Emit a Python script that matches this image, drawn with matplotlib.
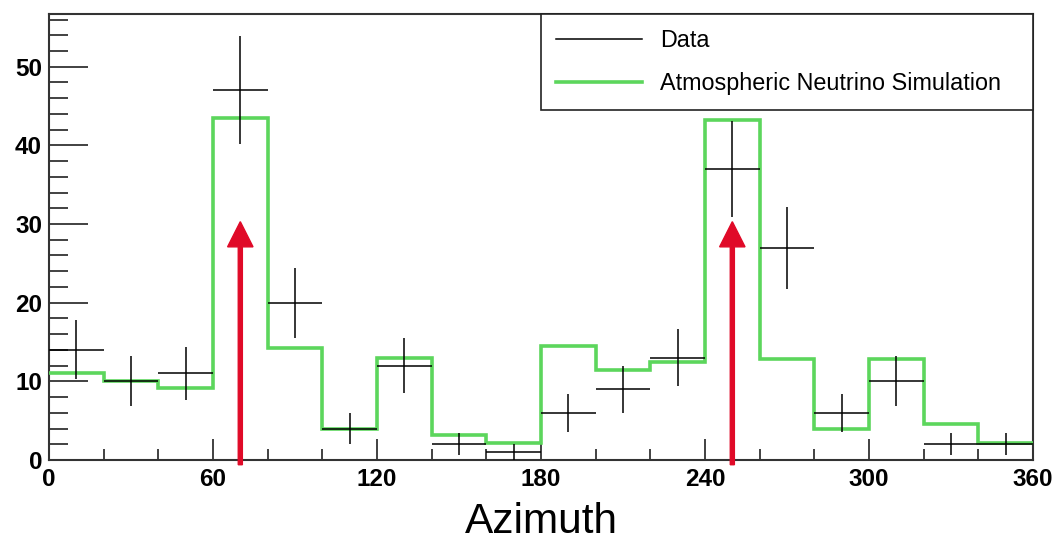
import numpy as np
import matplotlib
matplotlib.use("Agg")
import matplotlib.pyplot as plt
from matplotlib.lines import Line2D
from matplotlib.ticker import MultipleLocator

# azimuth bins (degrees), 20 deg wide
bin_edges = [0, 20, 40, 60, 80, 100, 120, 140, 160, 180,
             200, 220, 240, 260, 280, 300, 320, 340, 360]
data_counts = [14, 10, 11, 47, 20, 4, 12, 2, 1,
               6, 9, 13, 37, 27, 6, 10, 2, 2]
sim_counts = [11.1, 10.1, 9.2, 43.5, 14.3, 3.9, 13.0, 3.2, 2.1,
              14.5, 11.4, 12.5, 43.2, 12.9, 3.9, 12.9, 4.6, 2.1]
arrow_x = [70, 250]
arrow_top = 30.3

green = "#5cd65c"
plt.rcParams["font.family"] = ["Liberation Sans", "DejaVu Sans"]

fig = plt.figure(figsize=(10.53, 5.41), dpi=100)
ax = fig.add_axes([0.0465, 0.1497, 0.9345, 0.8244])

edges = np.array(bin_edges, dtype=float)
centers = 0.5 * (edges[:-1] + edges[1:])
half = 0.5 * np.diff(edges)
data = np.array(data_counts, dtype=float)
err = np.sqrt(data)

# simulation histogram (no drop to zero at the outer edges)
ax.stairs(sim_counts, edges, baseline=None, color=green, lw=2.6, zorder=3)

# data points with poisson errors
ax.errorbar(centers, data, xerr=half, yerr=err, fmt="none",
            ecolor="black", elinewidth=1.1, capsize=0, zorder=4)

# red arrows
for x in arrow_x:
    ax.arrow(x, -0.6, 0, arrow_top + 0.6, width=1.5, head_width=9.3,
             head_length=3.2, length_includes_head=True,
             color="#e00a28", clip_on=False, zorder=5)

ax.set_xlim(0, 360)
ax.set_ylim(0, 56.7)
ax.xaxis.set_major_locator(MultipleLocator(60))
ax.xaxis.set_minor_locator(MultipleLocator(20))
ax.yaxis.set_major_locator(MultipleLocator(10))
ax.yaxis.set_minor_locator(MultipleLocator(2))

ax.tick_params(axis="y", which="major", direction="in", length=28, width=1.3,
               labelsize=17.5, pad=5, color="#333333")
ax.tick_params(axis="y", which="minor", direction="in", length=14, width=1.3,
               color="#333333")
ax.tick_params(axis="x", which="major", direction="in", length=15, width=1.3,
               labelsize=17.5, pad=6, color="#333333")
ax.tick_params(axis="x", which="minor", direction="in", length=8, width=1.3,
               color="#333333")
for lab in ax.get_xticklabels() + ax.get_yticklabels():
    lab.set_fontweight("bold")

for s in ax.spines.values():
    s.set_linewidth(1.5)
    s.set_color("#333333")

ax.set_xlabel("Azimuth", fontsize=30.5, labelpad=8)

handles = [Line2D([], [], color="black", lw=1.1),
           Line2D([], [], color=green, lw=2.6)]
labels = ["Data", "Atmospheric Neutrino Simulation"]
leg = ax.legend(handles, labels, loc="upper right",
                bbox_to_anchor=(0.4998, 0.785, 0.5002, 0.215), mode="expand",
                fontsize=16.8, frameon=True, fancybox=False, framealpha=1,
                edgecolor="#222222", handlelength=3.7, handletextpad=0.77,
                labelspacing=0.88, borderpad=0.64, borderaxespad=0)
leg.get_frame().set_linewidth(1.2)

fig.savefig("out.png", dpi=100)
